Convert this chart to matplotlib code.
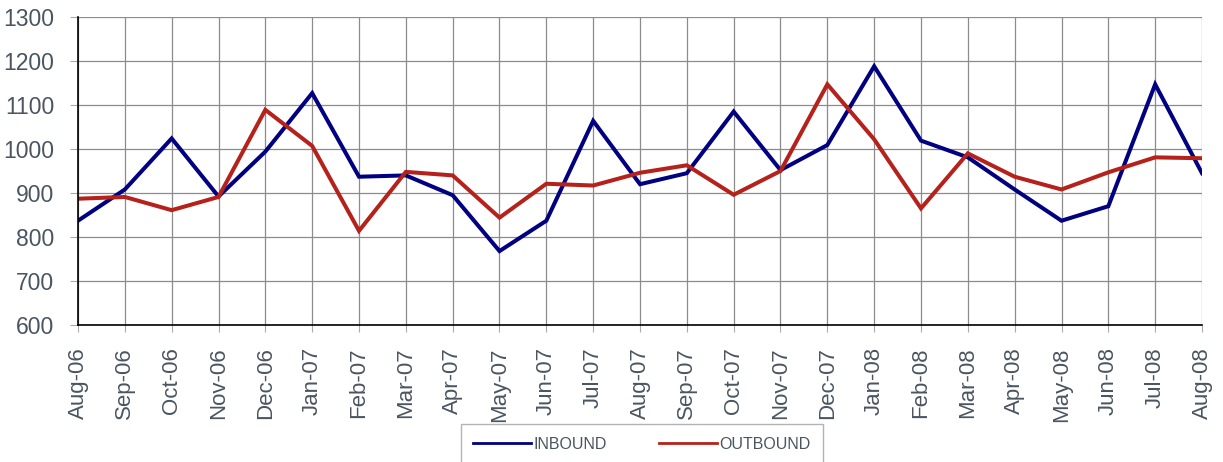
import matplotlib.pyplot as plt

plt.rcParams['font.family'] = ['Liberation Sans', 'DejaVu Sans']

months = ["Aug-06", "Sep-06", "Oct-06", "Nov-06", "Dec-06", "Jan-07", "Feb-07",
          "Mar-07", "Apr-07", "May-07", "Jun-07", "Jul-07", "Aug-07", "Sep-07",
          "Oct-07", "Nov-07", "Dec-07", "Jan-08", "Feb-08", "Mar-08", "Apr-08",
          "May-08", "Jun-08", "Jul-08", "Aug-08"]

inbound = [837, 908, 1024, 892, 994, 1127, 937, 940, 895, 768, 837, 1064, 920,
           945, 1085, 952, 1009, 1188, 1019, 981, 908, 837, 870, 1147, 945]

outbound = [887, 891, 861, 891, 1089, 1007, 814, 948, 940, 844, 921, 917, 946,
            963, 896, 950, 1147, 1022, 865, 990, 937, 908, 947, 981, 979]

text_color = "#4a5560"

fig = plt.figure(figsize=(12.23, 4.62), dpi=100)
ax = fig.add_axes([78 / 1223, 1 - 325 / 462, 1124 / 1223, 308 / 462])

x = list(range(len(months)))
ax.plot(x, inbound, color="#000080", lw=2.9, label="INBOUND", solid_joinstyle="miter")
ax.plot(x, outbound, color="#b5211b", lw=2.9, label="OUTBOUND", solid_joinstyle="miter")

ax.set_xlim(0, len(months) - 1)
ax.set_ylim(600, 1300)
ax.set_yticks(range(600, 1301, 100))
ax.set_xticks(x)
ax.set_xticklabels(months, rotation=90)

ax.grid(True, color="#8c8c8c", lw=0.9)
ax.set_axisbelow(True)
for s in ["top", "right"]:
    ax.spines[s].set_visible(False)
for s in ["left", "bottom"]:
    ax.spines[s].set_color("black")
    ax.spines[s].set_linewidth(1.2)

ax.tick_params(axis="x", length=5, color="#aaaaaa", pad=11, labelsize=16, labelcolor=text_color)
ax.tick_params(axis="y", length=6, color="#aaaaaa", pad=11, labelsize=16.5, labelcolor=text_color)

leg = fig.legend(loc="upper center", bbox_to_anchor=(642 / 1223, 1 - 424 / 462), ncol=2,
                 fontsize=11.5, frameon=True, fancybox=False, edgecolor="#a0a0a0",
                 handlelength=3.6, columnspacing=3.3, borderpad=0.8, handletextpad=0.15,
                 borderaxespad=0)
leg.get_frame().set_linewidth(1.0)
for t in leg.get_texts():
    t.set_color(text_color)
for h in leg.get_lines():
    h.set_linewidth(2.0)

fig.savefig("out.png", dpi=100)
